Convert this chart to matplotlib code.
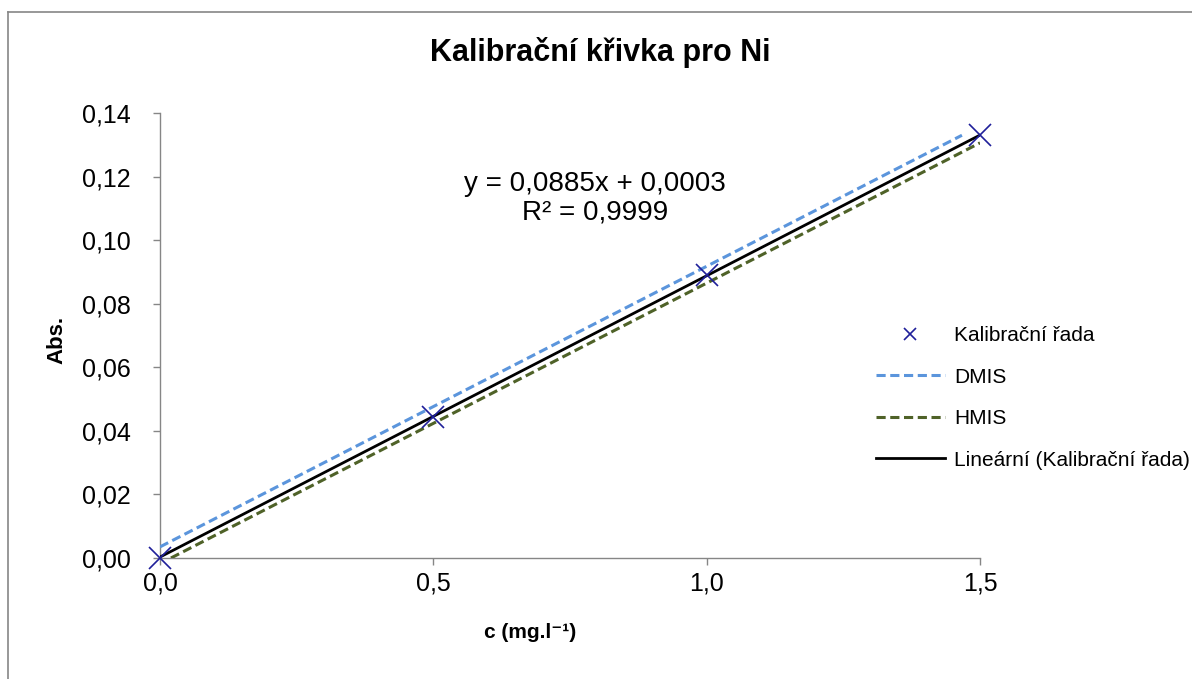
import matplotlib
matplotlib.use("Agg")
import matplotlib.pyplot as plt
from matplotlib.lines import Line2D
import numpy as np

plt.rcParams['font.family'] = ['Liberation Sans', 'DejaVu Sans']

# Data
conc = [0.0, 0.5, 1.0, 1.5]
absorb = [0.0, 0.0445, 0.0890, 0.1330]
dmis_x = [0.0, 1.467]
dmis_y = [0.0035, 0.1330]
hmis_x = [0.02, 1.5]
hmis_y = [0.0, 0.1306]
x_ticks = [0.0, 0.5, 1.0, 1.5]
x_ticklabels = ["0,0", "0,5", "1,0", "1,5"]
y_ticks = [0.0, 0.02, 0.04, 0.06, 0.08, 0.10, 0.12, 0.14]
y_ticklabels = ["0,00", "0,02", "0,04", "0,06", "0,08", "0,10", "0,12", "0,14"]
slope, intercept = 0.0885, 0.0003

fig = plt.figure(figsize=(11.92, 6.79), dpi=100)
ax = fig.add_axes([160/1192, 1-558/679, (980-160)/1192, (558-113)/679])

grey = '#868686'
# outer frame
fig.add_artist(Line2D([8/1192, 8/1192], [0, 1-12/679], color=grey, lw=1.2, transform=fig.transFigure))
fig.add_artist(Line2D([8/1192, 1], [1-12/679, 1-12/679], color=grey, lw=1.2, transform=fig.transFigure))

trend_x = np.array([0.0, 1.5])
trend_y = slope*trend_x + intercept

ax.plot(dmis_x, dmis_y, color='#5B95DC', lw=2.2, ls=(0, (3, 1.5)), zorder=3)
ax.plot(hmis_x, hmis_y, color='#4F6228', lw=2.2, ls=(0, (3, 1.5)), zorder=3)
ax.plot(trend_x, trend_y, color='black', lw=2.0, zorder=4)
ax.plot(conc, absorb, ls='none', marker='x', color='#1F1F9A', markersize=16, mew=1.2, zorder=5, clip_on=False)

ax.set_xlim(0, 1.5)
ax.set_ylim(0, 0.14)
ax.set_xticks(x_ticks)
ax.set_xticklabels(x_ticklabels)
ax.set_yticks(y_ticks)
ax.set_yticklabels(y_ticklabels)
ax.tick_params(axis='both', direction='out', length=5, width=1, color=grey, labelsize=18)
ax.tick_params(axis='x', pad=5)
ax.tick_params(axis='y', pad=16)
for s in ['top', 'right']:
    ax.spines[s].set_visible(False)
for s in ['left', 'bottom']:
    ax.spines[s].set_color(grey)
    ax.spines[s].set_linewidth(1.0)

fig.text(600/1192, 1-53/679, "Kalibrační křivka pro Ni", ha='center', va='center', fontsize=22, fontweight='bold')
fig.text(57/1192, 1-340/679, "Abs.", ha='center', va='center', rotation=90, fontsize=16, fontweight='bold')
fig.text(530/1192, 1-633/679, "c (mg.l⁻¹)", ha='center', va='center', fontsize=15, fontweight='bold')
fig.text(595/1192, 1-198/679, "y = 0,0885x + 0,0003\nR² = 0,9999", ha='center', va='center', fontsize=20, linespacing=1.15)

handles = [
    Line2D([], [], ls='none', marker='x', color='#1F1F9A', markersize=8, mew=1.2),
    Line2D([], [], color='#5B95DC', lw=2.2, ls=(0, (3, 1.5))),
    Line2D([], [], color='#4F6228', lw=2.2, ls=(0, (3, 1.5))),
    Line2D([], [], color='black', lw=2.0),
]
labels = ["Kalibrační řada", "DMIS", "HMIS", "Lineární (Kalibrační řada)"]
fig.legend(handles, labels, loc='upper left', bbox_to_anchor=(876/1192, 1-326/679), frameon=False,
           fontsize=15, handlelength=3.3, handletextpad=0.45, labelspacing=1.08, borderaxespad=0, borderpad=0)

fig.savefig("out.png", dpi=100)
